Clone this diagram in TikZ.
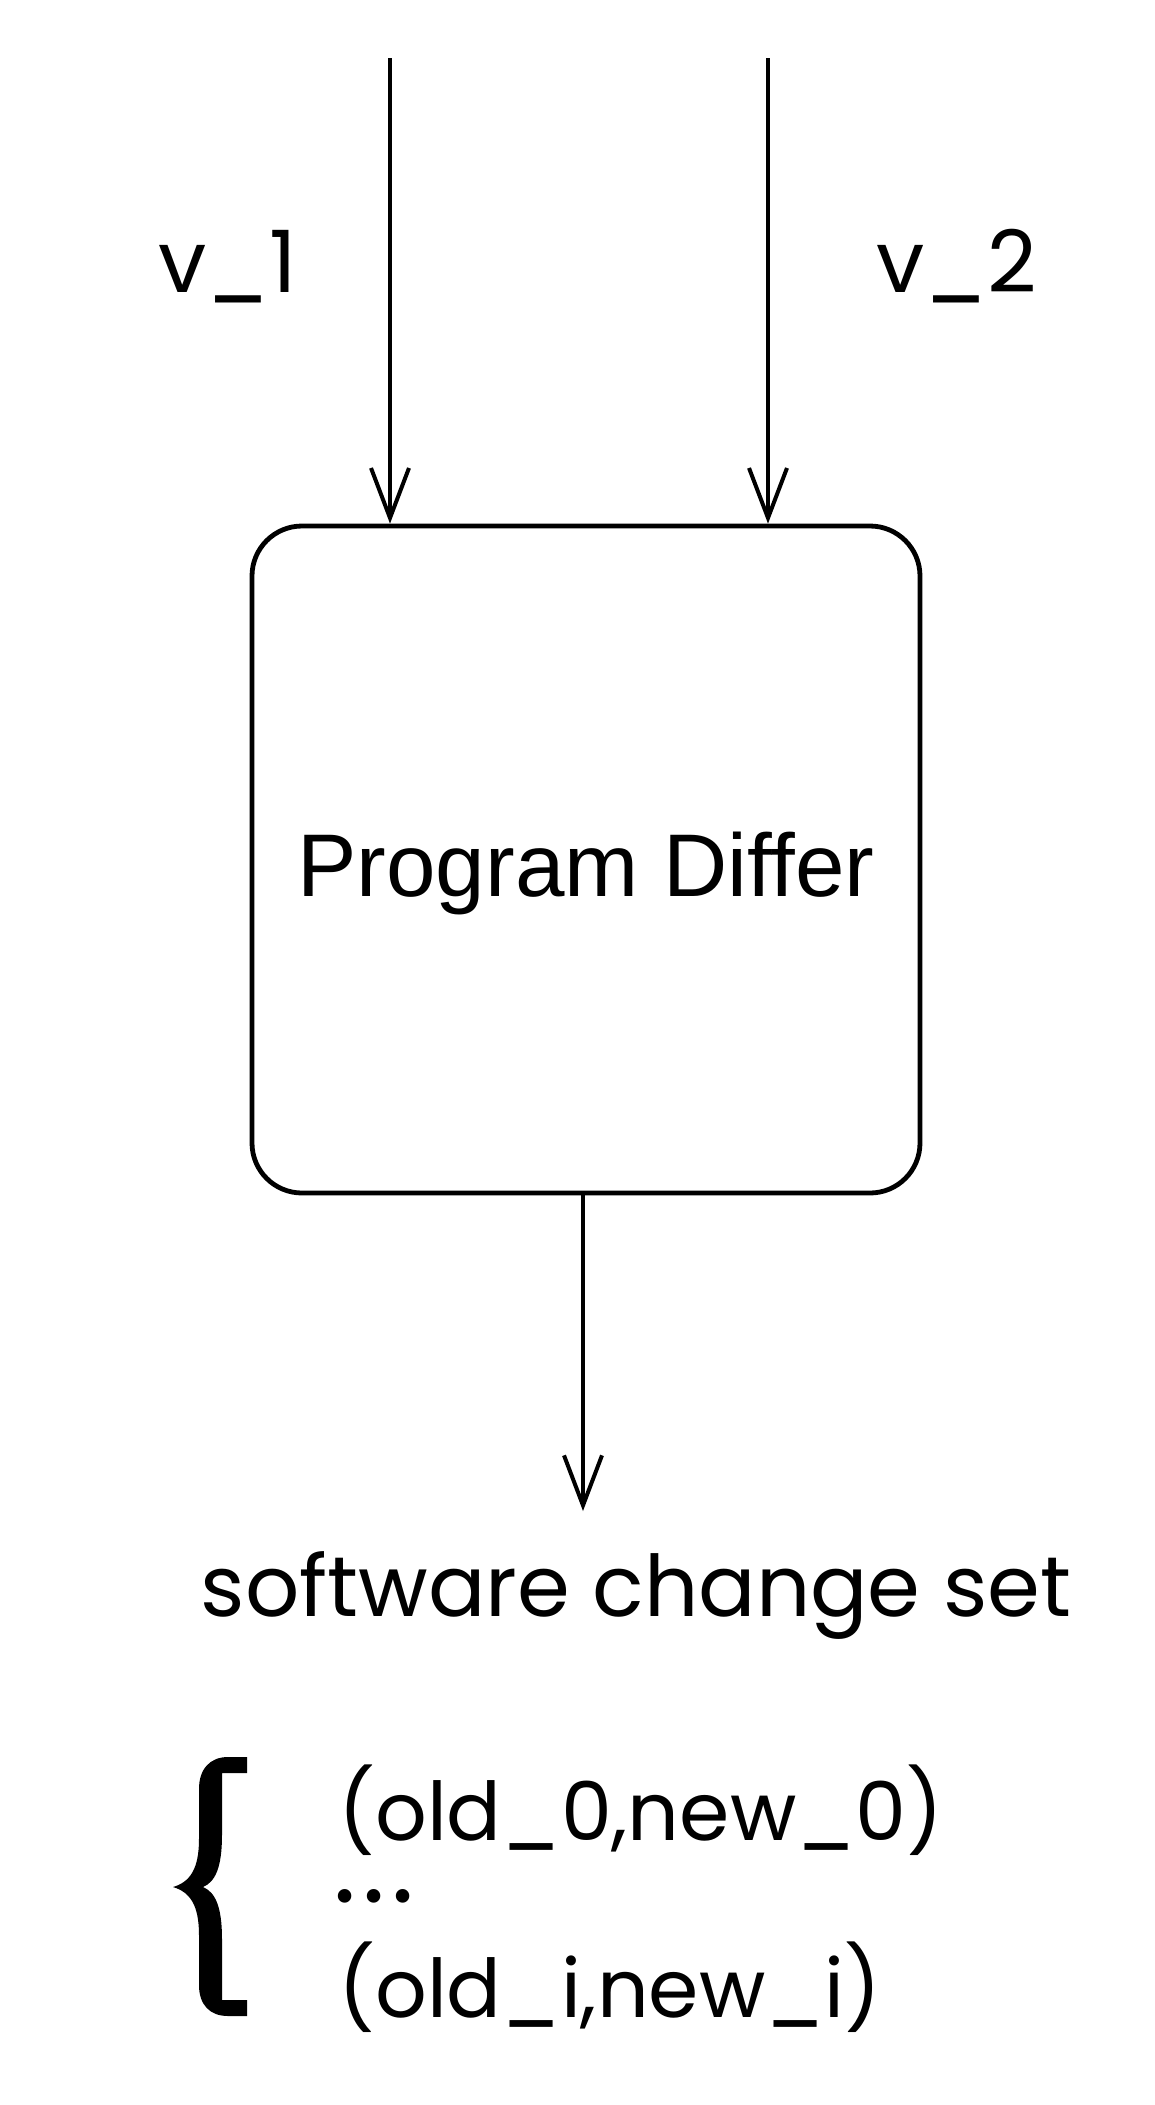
\documentclass[tikz,border=0pt]{standalone}
\usepackage{fontspec}
\usetikzlibrary{arrows.meta}
\newfontfamily\geofont{Poppins}
\newfontfamily\boxfont{Liberation Sans}

\tikzset{
  arr/.style={-{Straight Barb[length=25pt,width=19pt]}, line width=2pt},
  geo/.style={font=\geofont\fontsize{43}{52}\selectfont, inner sep=0pt},
}

\begin{document}
\begin{tikzpicture}[x=0.5pt,y=-0.5pt]
\useasboundingbox (0,0) rectangle (1155,2105);

% the differ box
\node (diff) at (586,859.5) [draw, line width=2.4pt, rounded corners=25pt,
   minimum width=334pt, minimum height=333.5pt, inner sep=0pt,
   text height=36.5pt, text depth=0pt,
   font=\boxfont\fontsize{44.5}{52}\selectfont] {Program Differ};

% inputs and output
\coordinate (in1) at (390,58);
\coordinate (in2) at (768,58);
\coordinate (out) at (583,1511);

\draw [arr] (in1) -- (in1 |- diff.north);
\draw [arr] (in2) -- (in2 |- diff.north);
\draw [arr] (out |- diff.south) -- (out);

\node (v1) at (228,292) [geo, anchor=base] {v\_1};
\node (v2) at (957,292) [geo, anchor=base] {v\_2};

\node (changes) at (636,1616) [geo, anchor=base, font=\geofont\fontsize{42.5}{52}\selectfont] {software change set};

% the set
\fill (247,1757) -- (247,1773) -- (222,1773) -- (222,1835)
   .. controls (222,1868) and (215,1882) .. (203,1887)
   .. controls (215,1892) and (222,1906) .. (222,1939)
   -- (222,2000) -- (247,2000) -- (247,2016) -- (228,2016)
   .. controls (210,2016) and (199,2005) .. (199,1985)
   -- (199,1935)
   .. controls (199,1905) and (190,1892) .. (173,1887)
   .. controls (190,1882) and (199,1869) .. (199,1839)
   -- (199,1789)
   .. controls (199,1769) and (210,1757) .. (228,1757) -- cycle;

\node (pair0) at (338,1840) [geo, anchor=base west, font=\geofont\fontsize{40.5}{52}\selectfont] {(old\_0,new\_0)};
\node (dots)  at (333,1902) [geo, anchor=base west, font=\geofont\fontsize{55}{60}\selectfont] {.\hspace{3pt}.\hspace{3pt}.};
\node (pairi) at (338,2017) [geo, anchor=base west, font=\geofont\fontsize{40.5}{52}\selectfont] {(old\_i,new\_i)};

\end{tikzpicture}
\end{document}
